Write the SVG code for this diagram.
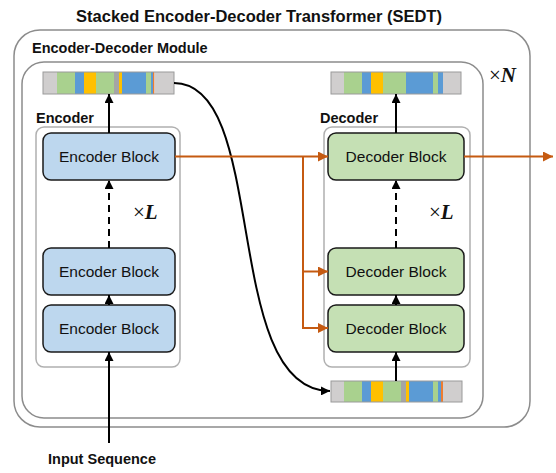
<svg xmlns="http://www.w3.org/2000/svg" width="556" height="473" viewBox="0 0 556 473">
<defs>
<marker id="ab" viewBox="0 0 10 10" refX="10" refY="5" markerWidth="9" markerHeight="9" markerUnits="userSpaceOnUse" orient="auto"><path d="M0,0 L10,5 L0,10 Z" fill="#000"/></marker>
<marker id="ao" viewBox="0 0 10 10" refX="10" refY="5" markerWidth="10" markerHeight="10" markerUnits="userSpaceOnUse" orient="auto"><path d="M0,0 L10,5 L0,10 Z" fill="#c55a11"/></marker>
<style>
.frame{fill:none;stroke:#8c8c8c;stroke-width:1.5}
.cont{fill:none;stroke:#b0b0b0;stroke-width:1.5}
.enc{fill:#bdd7ee;stroke:#1a1a1a;stroke-width:1.5}
.dec{fill:#c5e0b4;stroke:#1a1a1a;stroke-width:1.5}
.bt{font-family:"Liberation Sans",Arial,sans-serif;font-size:15.5px;fill:#111;text-anchor:middle}
.lbl{font-family:"Liberation Sans",Arial,sans-serif;font-size:14.5px;font-weight:bold;fill:#111}
.mul{font-family:"Liberation Serif","DejaVu Serif",serif;font-size:21px;fill:#111}
.gy{fill:#d0cece}.gr{fill:#a9d18e}.bl{fill:#5b9bd5}.ye{fill:#ffc000}.dg{fill:#a5a5a5}.or{fill:#ed7d31}
.bar{fill:none;stroke:#9a9a9a;stroke-width:1}
.blk{fill:none;stroke:#000;stroke-width:2}
.orl{fill:none;stroke:#c55a11;stroke-width:2}
</style>
</defs>
<rect width="556" height="473" fill="#fff"/>
<text x="259" y="22" text-anchor="middle" font-family="Liberation Sans,Arial,sans-serif" font-size="16.5" font-weight="bold" fill="#111">Stacked Encoder-Decoder Transformer (SEDT)</text>
<g id="outer"><rect class="frame" x="14" y="30" width="516" height="397" rx="26"/><text class="lbl" x="32" y="53">Encoder-Decoder Module</text></g>
<g id="module"><rect class="frame" x="22" y="62" width="461" height="356" rx="22"/>
<text class="mul" x="489" y="82">×<tspan font-weight="bold" font-style="italic">N</tspan></text></g>
<g id="encoder"><rect class="cont" x="36" y="127" width="144" height="240" rx="8"/><text class="lbl" x="36" y="123">Encoder</text>
<text class="mul" x="133" y="219">×<tspan font-weight="bold" font-style="italic">L</tspan></text></g>
<g id="decoder"><rect class="cont" x="324" y="127" width="146" height="240" rx="8"/><text class="lbl" x="320" y="123">Decoder</text>
<text class="mul" x="429" y="219">×<tspan font-weight="bold" font-style="italic">L</tspan></text></g>
<g id="enc1"><rect class="enc" x="43" y="133" width="132" height="47" rx="8"/><text class="bt" x="109" y="162">Encoder Block</text></g>
<g id="enc2"><rect class="enc" x="43" y="248" width="132" height="47" rx="8"/><text class="bt" x="109" y="277">Encoder Block</text></g>
<g id="enc3"><rect class="enc" x="43" y="305" width="132" height="47" rx="8"/><text class="bt" x="109" y="334">Encoder Block</text></g>
<g id="dec1"><rect class="dec" x="328" y="133" width="136" height="47" rx="8"/><text class="bt" x="396" y="162">Decoder Block</text></g>
<g id="dec2"><rect class="dec" x="328" y="248" width="136" height="47" rx="8"/><text class="bt" x="396" y="277">Decoder Block</text></g>
<g id="dec3"><rect class="dec" x="328" y="305" width="136" height="47" rx="8"/><text class="bt" x="396" y="334">Decoder Block</text></g>
<g id="encout">
<rect class="gy" x="43" y="72" width="14" height="22"/><rect class="gr" x="57" y="72" width="18" height="22"/><rect class="bl" x="75" y="72" width="9" height="22"/><rect class="ye" x="84" y="72" width="12" height="22"/><rect class="gr" x="96" y="72" width="18" height="22"/><rect class="dg" x="114" y="72" width="5" height="22"/><rect class="ye" x="119" y="72" width="3" height="22"/><rect class="bl" x="122" y="72" width="24" height="22"/><rect class="gr" x="146" y="72" width="5" height="22"/><rect class="bl" x="151" y="72" width="2" height="22"/><rect class="or" x="153" y="72" width="1.5" height="22"/><rect class="gy" x="154.5" y="72" width="19.5" height="22"/>
<rect class="bar" x="43" y="72" width="131" height="22"/></g>
<g id="decout">
<rect class="gy" x="331" y="72" width="13" height="22"/><rect class="gr" x="344" y="72" width="18" height="22"/><rect class="bl" x="362" y="72" width="9" height="22"/><rect class="ye" x="371" y="72" width="12" height="22"/><rect class="gr" x="383" y="72" width="23" height="22"/><rect class="bl" x="406" y="72" width="27" height="22"/><rect class="gr" x="433" y="72" width="5" height="22"/><rect class="bl" x="438" y="72" width="5" height="22"/><rect class="gy" x="443" y="72" width="18" height="22"/>
<rect class="bar" x="331" y="72" width="130" height="22"/></g>
<g id="decin">
<rect class="gy" x="331" y="381" width="13" height="21"/><rect class="gr" x="344" y="381" width="18" height="21"/><rect class="bl" x="362" y="381" width="9" height="21"/><rect class="ye" x="371" y="381" width="12" height="21"/><rect class="gr" x="383" y="381" width="18" height="21"/><rect class="dg" x="401" y="381" width="5" height="21"/><rect class="ye" x="406" y="381" width="3" height="21"/><rect class="bl" x="409" y="381" width="24" height="21"/><rect class="gr" x="433" y="381" width="5" height="21"/><rect class="bl" x="438" y="381" width="3" height="21"/><rect class="or" x="441" y="381" width="2" height="21"/><rect class="gy" x="443" y="381" width="19" height="21"/>
<rect class="bar" x="331" y="381" width="131" height="21"/></g>
<g id="input"><text class="lbl" x="48" y="464" font-size="16.5">Input Sequence</text></g>
<g id="connectors">
<path class="blk" d="M109,443 V352" marker-end="url(#ab)"/>
<path class="blk" d="M109,305 V295" marker-end="url(#ab)"/>
<path class="blk" d="M109,248 V180" stroke-dasharray="7,5" marker-end="url(#ab)"/>
<path class="blk" d="M109,133 V94" marker-end="url(#ab)"/>
<path class="blk" d="M396,381 V352" marker-end="url(#ab)"/>
<path class="blk" d="M396,305 V295" marker-end="url(#ab)"/>
<path class="blk" d="M396,248 V180" stroke-dasharray="7,5" marker-end="url(#ab)"/>
<path class="blk" d="M396,133 V94" marker-end="url(#ab)"/>
<path class="blk" d="M174,83 C270,83 220,390 330,391" marker-end="url(#ab)"/>
<path class="orl" d="M175,156.5 H328" marker-end="url(#ao)"/>
<path class="orl" d="M303,156.5 V328 H328" marker-end="url(#ao)"/>
<path class="orl" d="M303,271.5 H328" marker-end="url(#ao)"/>
<path class="orl" d="M464,156.5 H553" marker-end="url(#ao)"/>
</g>
</svg>
